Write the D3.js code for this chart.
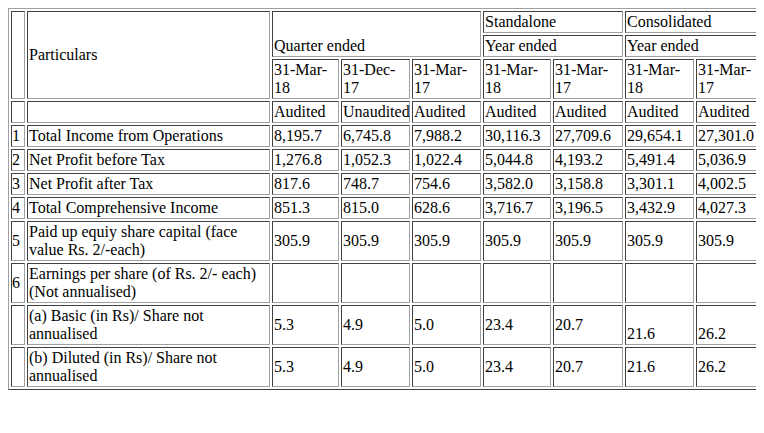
<!DOCTYPE html>
<html><head><meta charset="utf-8">
<script src="https://cdn.jsdelivr.net/npm/d3@7"></script>
<style>
body{margin:8px;font-family:"Liberation Serif","Times New Roman",serif;font-size:16px;background:#fff;}
table{border-collapse:separate;border-spacing:2px;border:1px solid #808080;table-layout:fixed;width:748px;}
td{border:1px solid #808080;border-top-color:#808080;padding:1px;vertical-align:middle;line-height:18px;}
table{border-color:#a0a0a0 #404040 #404040 #a0a0a0;}
td{border-color:#404040 #a0a0a0 #a0a0a0 #404040;}
</style></head><body>
<script>
const dates = [["31-Mar-","18"],["31-Dec-","17"],["31-Mar-","17"],["31-Mar-","18"],["31-Mar-","17"],["31-Mar-","18"],["31-Mar-","17"]];
const status = ["Audited","Unaudited","Audited","Audited","Audited","Audited","Audited"];
const rowNums = ["1","2","3","4","5","6","",""];
const particulars = ["Total Income from Operations","Net Profit before Tax","Net Profit after Tax","Total Comprehensive Income","Paid up equiy share capital (face value Rs. 2/-each)","Earnings per share (of Rs. 2/- each) (Not annualised)","(a) Basic (in Rs)/ Share not annualised","(b) Diluted (in Rs)/ Share not annualised"];
const values = [
 ["8,195.7","6,745.8","7,988.2","30,116.3","27,709.6","29,654.1","27,301.0"],
 ["1,276.8","1,052.3","1,022.4","5,044.8","4,193.2","5,491.4","5,036.9"],
 ["817.6","748.7","754.6","3,582.0","3,158.8","3,301.1","4,002.5"],
 ["851.3","815.0","628.6","3,716.7","3,196.5","3,432.9","4,027.3"],
 ["305.9","305.9","305.9","305.9","305.9","305.9","305.9"],
 ["","","","","","",""],
 ["5.3","4.9","5.0","23.4","20.7","21.6","26.2"],
 ["5.3","4.9","5.0","23.4","20.7","21.6","26.2"]];
const colW = [14,243,67,69,69,68,70,69,69];

const table = d3.select("body").append("table");
table.append("colgroup").selectAll("col").data(colW).join("col").style("width",d=>d+"px");
const r1 = table.append("tr");
r1.append("td").attr("rowspan",3);
r1.append("td").attr("rowspan",3).text("Particulars");
r1.append("td").attr("colspan",3).attr("rowspan",2).style("vertical-align","bottom").text("Quarter ended");
r1.append("td").attr("colspan",2).text("Standalone");
r1.append("td").attr("colspan",2).text("Consolidated");
const r2 = table.append("tr");
r2.append("td").attr("colspan",2).text("Year ended");
r2.append("td").attr("colspan",2).text("Year ended");
table.append("tr").selectAll("td").data(dates).join("td").html(d=>d[0]+"<br>"+d[1]);
const r4 = table.append("tr");
r4.append("td"); r4.append("td");
r4.selectAll("td.s").data(status).join("td").attr("class","s").text(d=>d);
particulars.forEach((p,i)=>{
  const tr = table.append("tr");
  tr.append("td").style("padding","1px 0").text(rowNums[i]);
  tr.append("td").text(p);
  tr.selectAll("td.v").data(values[i]).join("td").attr("class","v")
    .style("vertical-align",(d,j)=> (i===6 && j>=5) ? "bottom" : "middle").text(d=>d);
});
</script>
</body></html>
